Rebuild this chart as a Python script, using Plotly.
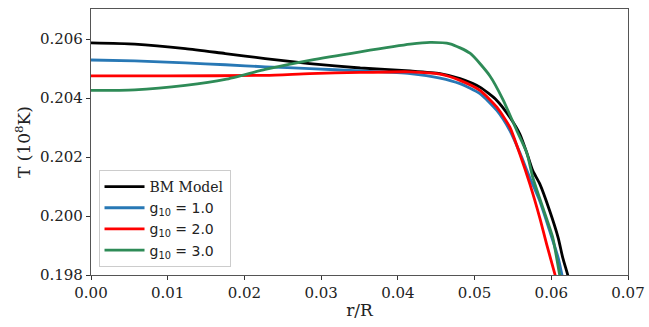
import plotly.graph_objects as go

# BM Model
bm_x = [0.0, 0.0057, 0.0123, 0.0175, 0.0227, 0.0285, 0.0351, 0.0416, 0.0455, 0.0481, 0.0507,
        0.0529, 0.0546, 0.0559, 0.0568, 0.0576, 0.0585, 0.0598, 0.0609, 0.0615, 0.0622, 0.0625]
bm_y = [0.20587, 0.20583, 0.20568, 0.20551, 0.20534, 0.20517, 0.20502, 0.20492, 0.20483, 0.20466, 0.20437,
        0.20392, 0.20335, 0.20278, 0.20215, 0.20153, 0.20109, 0.20017, 0.19926, 0.19858, 0.19795, 0.1976]

# g10 = 1.0
g1_x = [0.0, 0.0057, 0.0123, 0.0175, 0.0227, 0.0285, 0.0351, 0.0416, 0.0455, 0.0481, 0.0507,
        0.0529, 0.0546, 0.0559, 0.0572, 0.0585, 0.0598, 0.0609, 0.0614, 0.0618]
g1_y = [0.20529, 0.20526, 0.20519, 0.20513, 0.20506, 0.20500, 0.20492, 0.20483, 0.20468, 0.20449, 0.20415,
        0.20358, 0.20290, 0.20215, 0.20130, 0.20051, 0.19949, 0.19858, 0.19800, 0.1976]

# g10 = 2.0
g2_x = [0.0, 0.0100, 0.0227, 0.0285, 0.0351, 0.0416, 0.0455, 0.0481, 0.0507, 0.0529, 0.0546,
        0.0559, 0.0572, 0.0585, 0.0594, 0.0605, 0.0609]
g2_y = [0.20475, 0.20475, 0.20477, 0.20483, 0.20487, 0.20489, 0.20481, 0.20460, 0.20426, 0.20369, 0.20301,
        0.20210, 0.20109, 0.19994, 0.19904, 0.19800, 0.1976]

# g10 = 3.0
g3_x = [0.0, 0.0057, 0.0123, 0.0175, 0.0227, 0.0285, 0.0351, 0.0416, 0.0442, 0.0468, 0.0494,
        0.0520, 0.0537, 0.0555, 0.0568, 0.0576, 0.0589, 0.0602, 0.0611, 0.0615]
g3_y = [0.20426, 0.20428, 0.20443, 0.20463, 0.20497, 0.20528, 0.20557, 0.20583, 0.20589, 0.20584, 0.20552,
        0.20475, 0.20395, 0.20290, 0.20215, 0.20130, 0.20028, 0.19926, 0.19800, 0.1976]

x_ticks = [0.00, 0.01, 0.02, 0.03, 0.04, 0.05, 0.06, 0.07]
x_labels = ["0.00", "0.01", "0.02", "0.03", "0.04", "0.05", "0.06", "0.07"]
y_ticks = [0.198, 0.200, 0.202, 0.204, 0.206]
y_labels = ["0.198", "0.200", "0.202", "0.204", "0.206"]

series = [
    ("BM Model", bm_x, bm_y, "#000000"),
    ('<span style="font-family:DejaVu Sans">g<sub>10</sub> = 1.0</span>', g1_x, g1_y, "#2878b5"),
    ('<span style="font-family:DejaVu Sans">g<sub>10</sub> = 2.0</span>', g2_x, g2_y, "#ff0000"),
    ('<span style="font-family:DejaVu Sans">g<sub>10</sub> = 3.0</span>', g3_x, g3_y, "#2e8b57"),
]

fig = go.Figure()
for name, xs, ys, c in series:
    fig.add_trace(go.Scatter(x=xs, y=ys, mode="lines", name=name,
                             line=dict(color=c, width=2.8, shape="spline", smoothing=0.6)))

axis_common = dict(showline=True, mirror=True, linecolor="#555555", linewidth=1.3,
                   ticks="outside", ticklen=4, tickcolor="#333333", showgrid=False, zeroline=False,
                   ticklabeloverflow="allow", automargin=False,
                   tickfont=dict(family="DejaVu Serif", size=15, color="#222222"))

fig.update_xaxes(range=[0, 0.07], tickvals=x_ticks, ticktext=x_labels,
                 title=dict(text="r/R", font=dict(family="DejaVu Serif", size=17, color="#222222"), standoff=2),
                 **axis_common)
fig.update_yaxes(range=[0.198, 0.20702], tickvals=y_ticks, ticktext=y_labels,
                 title=dict(text="T (10<sup>8</sup>K)", font=dict(family="DejaVu Serif", size=17, color="#222222"), standoff=4),
                 **axis_common)

fig.update_layout(
    width=649, height=327,
    margin=dict(l=91, r=21, t=9, b=52, autoexpand=False),
    plot_bgcolor="white", paper_bgcolor="white",
    font=dict(family="DejaVu Serif", size=14, color="#222222"),
    legend=dict(x=0.014, y=0.395, xanchor="left", yanchor="top",
                bordercolor="#cccccc", borderwidth=1, bgcolor="rgba(255,255,255,0.8)",
                font=dict(family="DejaVu Serif", size=14), itemwidth=40, tracegroupgap=0),
    showlegend=True,
)

fig.write_html("out.html", config={"displayModeBar": False},
               post_script="document.body.style.margin='0';document.body.style.overflow='hidden';")
